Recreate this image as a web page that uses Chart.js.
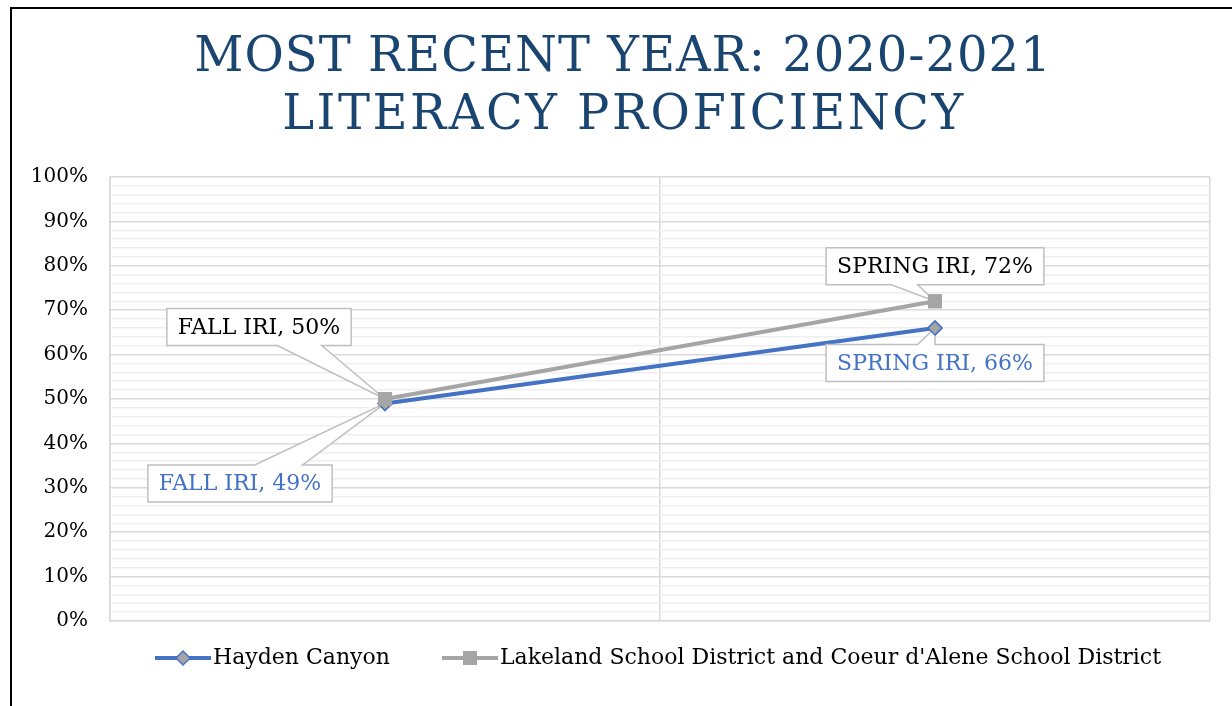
<!DOCTYPE html>
<html>
<head>
<meta charset="utf-8">
<script src="https://cdn.jsdelivr.net/npm/chart.js@4.4.1/dist/chart.umd.min.js"></script>
<style>
 html, body { margin: 0; padding: 0; background: #fff; }
 #frame { position: absolute; left: 10px; top: 7px; width: 1222px; height: 699px;
          border-top: 2px solid #000; border-left: 2px solid #000; box-sizing: border-box; }
 canvas { display: block; }
</style>
</head>
<body>
<div id="frame"><canvas id="myChart" width="1220" height="697"></canvas></div>
<script>
'use strict';

// chart data
var titleLines = ['MOST RECENT YEAR: 2020-2021', 'LITERACY PROFICIENCY'];
var categories = ['FALL IRI', 'SPRING IRI'];
var seriesNames = ['Hayden Canyon', "Lakeland School District and Coeur d'Alene School District"];
var haydenValues = [49, 66];
var lakelandValues = [50, 72];
var yMajorStep = 10;
var yMinorStep = 2;

var FONT = "'DejaVu Serif', serif";
var BLUE = '#4472C4';
var GREY = '#A5A5A5';

// legend icon: line with marker, drawn into a small canvas
// box is wider than the drawn line so the gap between items looks like excel
var LEG_FONT = 22, LEG_BOX = 77;
function legendIcon(color, marker) {
  var lineEnd = LEG_BOX + LEG_FONT / 2 - 2;
  var half = lineEnd - LEG_BOX / 2;
  var c = document.createElement('canvas');
  c.width = Math.round(half * 2); c.height = 18;
  var off = half - LEG_BOX / 2;            // image x of legend box start
  var x0 = off + lineEnd - 56, x1 = off + lineEnd;
  var g = c.getContext('2d');
  g.strokeStyle = color;
  g.lineWidth = 4;
  g.beginPath(); g.moveTo(x0, 9); g.lineTo(x1, 9); g.stroke();
  var cx = (x0 + x1) / 2, cy = 9;
  if (marker === 'diamond') {
    g.beginPath();
    g.moveTo(cx, cy - 7); g.lineTo(cx + 7, cy); g.lineTo(cx, cy + 7); g.lineTo(cx - 7, cy); g.closePath();
    g.fillStyle = GREY; g.fill();
    g.lineWidth = 1.5; g.strokeStyle = color; g.stroke();
  } else {
    g.fillStyle = color;
    g.fillRect(cx - 7, cy - 7, 14, 14);
  }
  return c;
}

// callout style data labels
var calloutPlugin = {
  id: 'callouts',
  afterDatasetsDraw: function (chart) {
    var ctx = chart.ctx;
    chart.data.datasets.forEach(function (ds, di) {
      var meta = chart.getDatasetMeta(di);
      var opts = ds.callouts;
      meta.data.forEach(function (pt, i) {
        var o = opts[i];
        var text = categories[i] + ', ' + ds.data[i] + '%';
        ctx.save();
        ctx.font = '22px ' + FONT;
        var w = ctx.measureText(text).width + 22;
        var h = 37;
        var cx = pt.x + o.dx, cy = pt.y + o.dy;
        var l = cx - w / 2, r = cx + w / 2, t = cy - h / 2, b = cy + h / 2;
        var x1 = l + w * o.wedge[0], x2 = l + w * o.wedge[1];
        ctx.beginPath();
        if (o.dy < 0) {
          ctx.moveTo(l, t); ctx.lineTo(r, t); ctx.lineTo(r, b); ctx.lineTo(x2, b);
          ctx.lineTo(pt.x, pt.y); ctx.lineTo(x1, b); ctx.lineTo(l, b);
        } else {
          ctx.moveTo(l, t); ctx.lineTo(x1, t); ctx.lineTo(pt.x, pt.y); ctx.lineTo(x2, t);
          ctx.lineTo(r, t); ctx.lineTo(r, b); ctx.lineTo(l, b);
        }
        ctx.closePath();
        ctx.fillStyle = '#fff';
        ctx.fill();
        ctx.lineWidth = 1.5;
        ctx.strokeStyle = '#BFBFBF';
        ctx.stroke();
        ctx.fillStyle = ds.labelColor;
        ctx.textAlign = 'center';
        ctx.textBaseline = 'middle';
        ctx.fillText(text, cx, cy + 1);
        ctx.restore();
      });
      // markers back on top of the callout tips
      meta.data.forEach(function (pt) { pt.draw(ctx, chart.chartArea); });
    });
  }
};

var titlePlugin = {
  id: 'bigTitle',
  afterDraw: function (chart) {
    var ctx = chart.ctx;
    ctx.save();
    ctx.font = '48px ' + FONT;
    ctx.fillStyle = '#1A4570';
    ctx.textAlign = 'center';
    ctx.textBaseline = 'alphabetic';
    ctx.letterSpacing = '1px';
    ctx.fillText(titleLines[0], 611, 62);
    ctx.letterSpacing = '2.5px';
    ctx.fillText(titleLines[1], 612, 120);
    ctx.restore();
  }
};

// nudge the legend so it sits where excel put it
var legendShift = {
  id: 'legendShift',
  afterLayout: function (chart) {
    chart.legend.left += 32;
    chart.legend.right += 32;
  }
};

var ctx = document.getElementById('myChart');
var myChart = new Chart(ctx, {
  type: 'line',
  data: {
    labels: categories,
    datasets: [{
      label: seriesNames[0],
      data: haydenValues,
      borderColor: BLUE,
      borderWidth: 4,
      pointStyle: 'rectRot',
      pointRadius: 7,
      pointBackgroundColor: GREY,
      pointBorderColor: BLUE,
      pointBorderWidth: 1.5,
      order: 2,
      labelColor: BLUE,
      icon: legendIcon(BLUE, 'diamond'),
      callouts: [{ dx: -145, dy: 80, wedge: [0.58, 0.84] }, { dx: 0, dy: 35, wedge: [0.42, 0.5] }]
    }, {
      label: seriesNames[1],
      data: lakelandValues,
      borderColor: GREY,
      borderWidth: 4,
      pointStyle: 'rect',
      pointRadius: 7,
      pointBackgroundColor: GREY,
      pointBorderColor: GREY,
      order: 1,
      labelColor: '#000',
      icon: legendIcon(GREY, 'square'),
      callouts: [{ dx: -126, dy: -72, wedge: [0.6, 0.84] }, { dx: 0, dy: -35, wedge: [0.3, 0.42] }]
    }]
  },
  options: {
    responsive: false,
    animation: false,
    devicePixelRatio: 1,
    layout: { padding: { top: 168, left: 0, right: 22, bottom: 27 } },
    scales: {
      x: {
        type: 'category',
        offset: true,
        afterFit: function (scale) { scale.height = 4; },
        grid: { offset: true, color: '#D9D9D9', lineWidth: 1.5, drawTicks: false },
        border: { color: '#D9D9D9', width: 1.5 },
        ticks: { display: false }
      },
      y: {
        min: 0,
        max: 100,
        afterFit: function (scale) { scale.width = 98; },
        grid: {
          drawTicks: false,
          lineWidth: 1.5,
          color: function (c) { return c.tick && c.tick.value % yMajorStep === 0 ? '#D9D9D9' : '#EFEFEF'; }
        },
        border: { color: '#D9D9D9', width: 1.5 },
        ticks: {
          stepSize: yMinorStep,
          autoSkip: false,
          padding: 22,
          color: '#000',
          font: { family: FONT, size: 20 },
          callback: function (v) { return v % yMajorStep === 0 ? v + '%' : ''; }
        }
      }
    },
    plugins: {
      title: { display: false },
      tooltip: { enabled: false },
      legend: {
        position: 'bottom',
        labels: {
          usePointStyle: true,
          pointStyleWidth: LEG_BOX,
          boxHeight: LEG_FONT,
          padding: 22,
          color: '#000',
          font: { family: FONT, size: LEG_FONT },
          generateLabels: function (chart) {
            return chart.data.datasets.map(function (ds, i) {
              return { text: ds.label, pointStyle: ds.icon, datasetIndex: i, fontColor: '#000', lineWidth: 0, strokeStyle: 'transparent', fillStyle: 'transparent' };
            });
          }
        }
      }
    }
  },
  plugins: [calloutPlugin, titlePlugin, legendShift]
});
</script>
</body>
</html>
